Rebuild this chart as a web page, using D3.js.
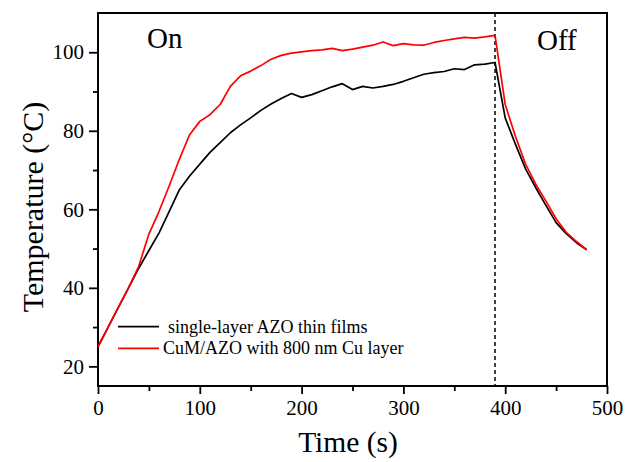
<!DOCTYPE html>
<html>
<head>
<meta charset="utf-8">
<script src="https://cdn.jsdelivr.net/npm/d3@7"></script>
<style>
  body { margin: 0; background: #fff; }
  text { font-family: "Liberation Serif", "Times New Roman", serif; fill: #000; }
</style>
</head>
<body>
<svg id="chart" width="635" height="462"></svg>
<script>
// time in seconds, every 10 s
var time = [0,10,20,30,40,50,60,70,80,90,100,110,120,130,140,150,160,170,180,190,
  200,210,220,230,240,250,260,270,280,290,300,310,320,330,340,350,360,370,380,390,
  400,410,420,430,440,450,460,470,480];
var singleAZO = [25,30,35,40,45,49.5,54,59.5,65,68.5,71.5,74.5,77,79.5,81.5,83.3,85.2,86.8,88.2,89.5,
  88.5,89.2,90.2,91.2,92,90.5,91.3,90.9,91.3,91.8,92.6,93.5,94.4,94.8,95.1,95.8,95.6,96.8,97,97.4,
  83.3,76.6,70.3,65.5,61,56.6,53.8,51.5,49.7];
var cuAZO = [25,30,35,40,45.5,53.7,59.5,66,72.8,79,82.4,84.1,86.7,91.3,94,95.2,96.6,98.2,99.2,99.8,
  100.1,100.4,100.6,101,100.4,100.8,101.3,101.8,102.6,101.7,102.2,101.9,101.8,102.5,103,103.4,103.8,103.6,103.9,104.3,
  86.7,78.6,71.5,66.4,62.1,57.6,54.1,51.8,49.7];
var seriesNames = ["single-layer AZO thin films", "CuM/AZO with 800 nm Cu layer"];
var seriesColors = ["#000000", "#ff0000"];
var xTicks = [0,100,200,300,400,500];
var xMinor = [50,150,250,350,450];
var yTicks = [20,40,60,80,100];
var yMinor = [30,50,70,90];
var switchOff = 390;

var svg = d3.select("#chart");
var margin = {top: 13, right: 28, bottom: 76, left: 98};
var width = 635 - margin.left - margin.right,
    height = 462 - margin.top - margin.bottom;
var g = svg.append("g").attr("transform", "translate(" + margin.left + "," + margin.top + ")");

var x = d3.scaleLinear().domain([0, 500]).range([0, width]);
var y = d3.scaleLinear().domain([15, 110]).range([height, 0]);

// minor ticks first
g.append("g").attr("transform", "translate(0," + height + ")")
  .call(d3.axisBottom(x).tickValues(xMinor).tickSize(5).tickFormat(""))
  .call(function(a){ a.select(".domain").remove(); a.selectAll("line").attr("stroke-width", 1.8); });
g.append("g")
  .call(d3.axisLeft(y).tickValues(yMinor).tickSize(5).tickFormat(""))
  .call(function(a){ a.select(".domain").remove(); a.selectAll("line").attr("stroke-width", 1.8); });

var xAxis = g.append("g").attr("transform", "translate(0," + height + ")")
  .call(d3.axisBottom(x).tickValues(xTicks).tickSize(8).tickPadding(6));
var yAxis = g.append("g")
  .call(d3.axisLeft(y).tickValues(yTicks).tickSize(9).tickPadding(5));
[xAxis, yAxis].forEach(function(a){
  a.select(".domain").remove();
  a.selectAll("line").attr("stroke-width", 1.8);
  a.selectAll("text").style("font-family", "Liberation Serif").style("font-size", "21px");
});

// frame
g.append("rect").attr("width", width).attr("height", height)
  .attr("fill", "none").attr("stroke", "#000").attr("stroke-width", 2);

// on/off divider
g.append("line")
  .attr("x1", x(switchOff)).attr("x2", x(switchOff))
  .attr("y1", 0).attr("y2", height)
  .attr("stroke", "#000").attr("stroke-width", 1.5).attr("stroke-dasharray", "4,3");

var line = d3.line()
  .x(function(d, i) { return x(time[i]); })
  .y(function(d) { return y(d); });

[singleAZO, cuAZO].forEach(function(s, i) {
  g.append("path").datum(s)
    .attr("d", line)
    .attr("fill", "none")
    .attr("stroke", seriesColors[i])
    .attr("stroke-width", 1.7)
    .attr("stroke-linejoin", "round");
});

// legend
var legend = g.append("g").attr("transform", "translate(20," + y(30.1) + ")");
seriesNames.forEach(function(name, i) {
  var row = legend.append("g").attr("transform", "translate(0," + (i * 21.6) + ")");
  row.append("line").attr("x1", 0).attr("x2", 41).attr("y1", 0).attr("y2", 0)
    .attr("stroke", seriesColors[i]).attr("stroke-width", 1.7);
  row.append("text").attr("x", i === 0 ? 50 : 45).attr("y", 6)
    .style("font-size", "18px").text(name);
});

// annotations
g.append("text").attr("x", 49).attr("y", 35).style("font-size", "29px").text("On");
g.append("text").attr("x", 439).attr("y", 37).style("font-size", "29px").text("Off");

// axis titles
svg.append("text").attr("x", 348).attr("y", 452)
  .attr("text-anchor", "middle").style("font-size", "29.5px").text("Time (s)");
svg.append("text").attr("transform", "translate(43,207) rotate(-90)")
  .attr("text-anchor", "middle").style("font-size", "30px").text("Temperature (°C)");
</script>
</body>
</html>
